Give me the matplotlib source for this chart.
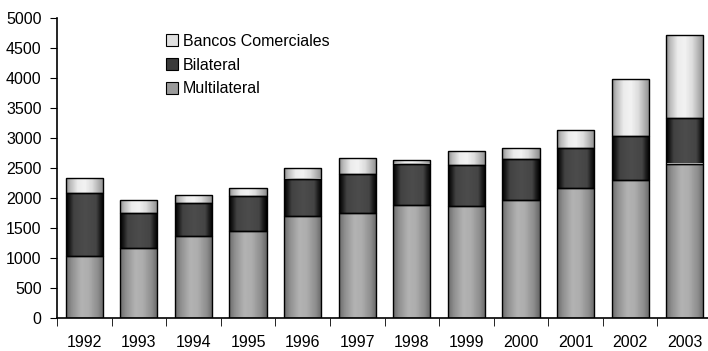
import matplotlib
matplotlib.use('Agg')
import matplotlib.pyplot as plt
import numpy as np
from matplotlib.patches import Patch

years = ['1992', '1993', '1994', '1995', '1996', '1997',
         '1998', '1999', '2000', '2001', '2002', '2003']
multilateral = [1030, 1170, 1360, 1455, 1700, 1755, 1890, 1865, 1965, 2160, 2300, 2575]
bilateral = [1050, 580, 555, 585, 625, 650, 685, 680, 680, 675, 735, 765]
bancos = [250, 210, 135, 120, 180, 265, 55, 235, 185, 305, 955, 1380]

plt.rcParams['font.family'] = ['Liberation Sans', 'DejaVu Sans']

# horizontal shading profiles (position across the bar -> gray level)
shade = {
    'Multilateral': ([0, 0.15, 0.4, 0.6, 0.85, 1.0], [0.42, 0.56, 0.70, 0.68, 0.55, 0.40]),
    'Bilateral': ([0, 0.1, 0.2, 0.5, 0.8, 0.9, 1.0], [0.0, 0.12, 0.26, 0.30, 0.27, 0.12, 0.0]),
    'Bancos Comerciales': ([0, 0.1, 0.3, 0.5, 0.7, 0.9, 1.0], [0.55, 0.72, 0.92, 0.95, 0.86, 0.66, 0.55]),
}
flat = {'Multilateral': '#9a9a9a', 'Bilateral': '#3a3a3a', 'Bancos Comerciales': '#e0e0e0'}

fig = plt.figure(figsize=(7.08, 3.51), dpi=100)
ax = fig.add_axes([57 / 708, 33 / 351, 655 / 708, 300 / 351])

x = np.arange(len(years))
w = 0.68
bottoms = np.zeros(len(years))
for name, vals in [('Multilateral', multilateral), ('Bilateral', bilateral),
                   ('Bancos Comerciales', bancos)]:
    bars = ax.bar(x, vals, w, bottom=bottoms, facecolor='none',
                  edgecolor='black', linewidth=1.0, zorder=3)
    xs, ys = shade[name]
    prof = np.interp(np.linspace(0, 1, 64), xs, ys)
    img = np.tile(prof, (2, 1))
    for p in bars.patches:
        im = ax.imshow(img, cmap='gray', vmin=0, vmax=1, aspect='auto',
                       extent=[p.get_x(), p.get_x() + p.get_width(),
                               p.get_y(), p.get_y() + p.get_height()],
                       interpolation='bilinear', zorder=2)
        im.set_clip_path(p)
    bottoms += np.array(vals)

ax.set_xlim(-0.5, len(years) - 0.5)
ax.set_ylim(0, 5000)
ax.set_yticks(np.arange(0, 5001, 500))
ax.set_xticks(x)
ax.set_xticklabels(years)
ax.set_xticks(np.arange(-0.5, len(years), 1), minor=True)
ax.tick_params(axis='x', which='major', length=0, pad=12, labelsize=11.5)
ax.tick_params(axis='x', which='minor', length=6, direction='out')
ax.tick_params(axis='y', length=5, labelsize=11.5, pad=6)
for s in ['top', 'right']:
    ax.spines[s].set_visible(False)
ax.spines['left'].set_linewidth(1.2)
ax.spines['bottom'].set_linewidth(1.2)

handles = [Patch(facecolor=flat[n], edgecolor='black', linewidth=0.8, label=n)
           for n in ['Bancos Comerciales', 'Bilateral', 'Multilateral']]
ax.legend(handles=handles, loc='upper left', bbox_to_anchor=(0.145, 0.995),
          frameon=False, fontsize=11.5, handlelength=0.75, handleheight=0.75,
          handletextpad=0.3, labelspacing=0.55)

fig.savefig('out.png', dpi=100)
